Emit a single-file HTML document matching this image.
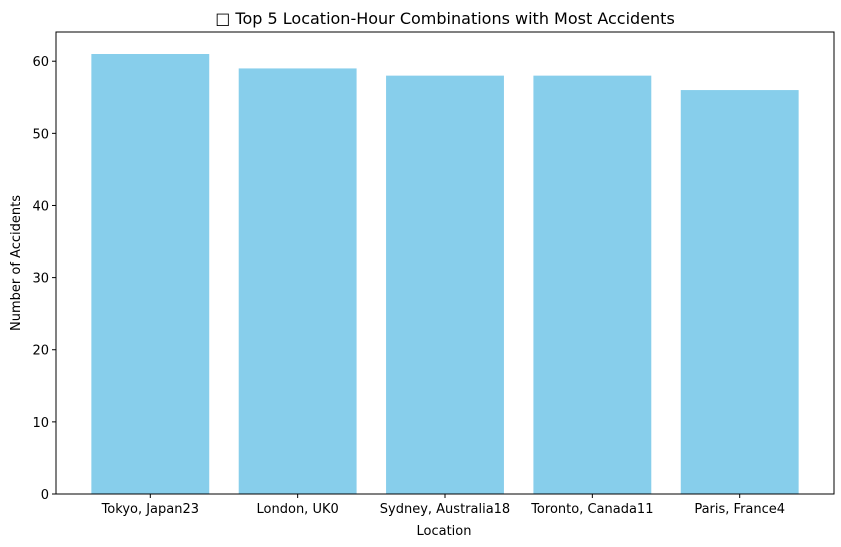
<!DOCTYPE html>
<html><head><meta charset="utf-8"><style>
html,body{margin:0;padding:0;background:#fff;}
svg{display:block;font-family:"DejaVu Sans","Liberation Sans",sans-serif;}
</style></head><body>
<svg id="chart" width="841" height="547">
<rect width="841" height="547" fill="#fff"/>
<text x="445" y="24" text-anchor="middle" font-size="16">□ Top 5 Location-Hour Combinations with Most Accidents</text>
<g id="bars"></g><g id="yticks"></g><g id="xticks"></g>
<rect x="56" y="32" width="778" height="462" fill="none" stroke="#000" stroke-width="1"/>
<text x="444" y="535" text-anchor="middle" font-size="13">Location</text>
<text transform="translate(20,263) rotate(-90)" text-anchor="middle" font-size="13">Number of Accidents</text>
</svg>
<script>
const categories=["Tokyo, Japan23","London, UK0","Sydney, Australia18","Toronto, Canada11","Paris, France4"];
const values=[61,59,58,58,56];
const yTicks=[0,10,20,30,40,50,60];
const L=56,R=834,T=32,B=494;
const x0=-0.64,x1=4.64;
function xs(v){return L+(v-x0)/(x1-x0)*(R-L);}
function ys(v){return B-v/64.05*(B-T);}
const NS="http://www.w3.org/2000/svg";
function mk(t,a,p){const e=document.createElementNS(NS,t);for(const k in a)e.setAttribute(k,a[k]);p.appendChild(e);return e;}
const bars=document.getElementById('bars'),yt=document.getElementById('yticks'),xt=document.getElementById('xticks');
values.forEach((v,i)=>{
 const r=mk('rect',{x:xs(i-0.4),y:ys(v),width:xs(i+0.4)-xs(i-0.4),height:ys(0)-ys(v),fill:'#87ceeb'},bars);
 
 
 const l=mk('line',{x1:xs(i),x2:xs(i),y1:B,y2:B+4,stroke:'#000'},xt);
 
 
 const t=mk('text',{x:xs(i),y:B+19,'text-anchor':'middle','font-size':13},xt);
 t.textContent=categories[i];
 
 
});
yTicks.forEach(v=>{
 const l=mk('line',{x1:L-4,x2:L,y1:ys(v),y2:ys(v),stroke:'#000'},yt);
 
 
 const t=mk('text',{x:L-7,y:ys(v)+5,'text-anchor':'end','font-size':13},yt);
 t.textContent=v;
 
 
});
</script>
</body></html>
